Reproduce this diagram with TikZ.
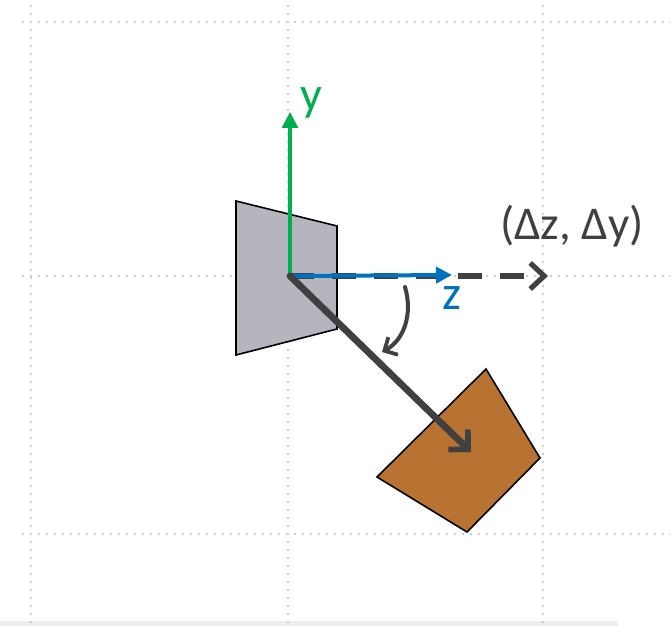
\documentclass[tikz,border=0pt]{standalone}
\usepackage{fontspec}
\setmainfont{Carlito}
\usetikzlibrary{arrows.meta}
\definecolor{axisgreen}{RGB}{0,176,80}
\definecolor{axisblue}{RGB}{0,112,192}
\definecolor{darkline}{RGB}{64,64,64}
\definecolor{camgray}{RGB}{182,181,189}
\definecolor{copper}{RGB}{184,114,50}
\tikzset{
  gridline/.style={gray!40, line width=0.9pt, dash pattern=on 0.9pt off 3.1pt},
  greenaxis/.style={-{Triangle[length=8pt, width=8pt]}, axisgreen, line width=1.6pt},
  blueaxis/.style={-{Triangle[length=8pt, width=8pt]}, axisblue, line width=2pt},
  motionarrow/.style={-{Straight Barb[length=7pt, width=14pt, line width=2.8pt]}, darkline, line width=3.4pt, line cap=round},
  dasharrow/.style={-{Straight Barb[length=7pt, width=13pt, line width=2.6pt]}, darkline, line width=2.6pt, dash pattern=on 12pt off 9pt},
  turnarrow/.style={-{Straight Barb[length=5pt, width=10pt, line width=1.9pt]}, darkline, line width=2pt, line cap=round},
  shapeedge/.style={draw=black, line width=0.8pt, line join=miter},
  axislabel/.style={font=\fontsize{24}{28}\selectfont, inner sep=0pt},
  deltalabel/.style={font=\fontsize{23.5}{27}\selectfont, text=darkline, inner sep=0pt}
}
\begin{document}
\begin{tikzpicture}[x=0.5pt, y=-0.5pt, >=Latex]
  \useasboundingbox (0,0) rectangle (671,626);
  \fill[gray!14] (0,621) rectangle (618,626);
  \foreach \gx in {31,288,543} \draw[gridline] (\gx,5) -- (\gx,626);
  \foreach \gy in {22,276,534} \draw[gridline] (22,\gy) -- (671,\gy);

  \coordinate (origin) at (290,276);
  \coordinate (ytip) at (290,112);
  \coordinate (ztip) at (452,275);
  \coordinate (shifttip) at (548,276);
  \coordinate (movetip) at (471,452);
  \coordinate (turnstart) at (405,287);
  \coordinate (turnend) at (382,352);

  \filldraw[shapeedge, fill=camgray] (236,201) -- (337,226) -- (337,329) -- (236,355) -- cycle;
  \filldraw[shapeedge, fill=copper] (486,369) -- (540,458) -- (467,532) -- (377,477) -- cycle;

  \draw[dasharrow] (origin) -- (shifttip);
  \draw[blueaxis] (origin) -- (ztip);
  \draw[greenaxis] (origin) -- (ytip);
  \draw[motionarrow] (origin) -- (movetip);
  \draw[turnarrow] (turnstart) .. controls (413,314) and (404,340) .. (turnend);

  \node[axislabel, text=axisgreen] (ylabel) at (311,103) {y};
  \node[axislabel, text=axisblue] (zlabel) at (452,298) {z};
  \node[deltalabel] (shiftlabel) at (572,226) {(Δz, Δy)};
\end{tikzpicture}
\end{document}
